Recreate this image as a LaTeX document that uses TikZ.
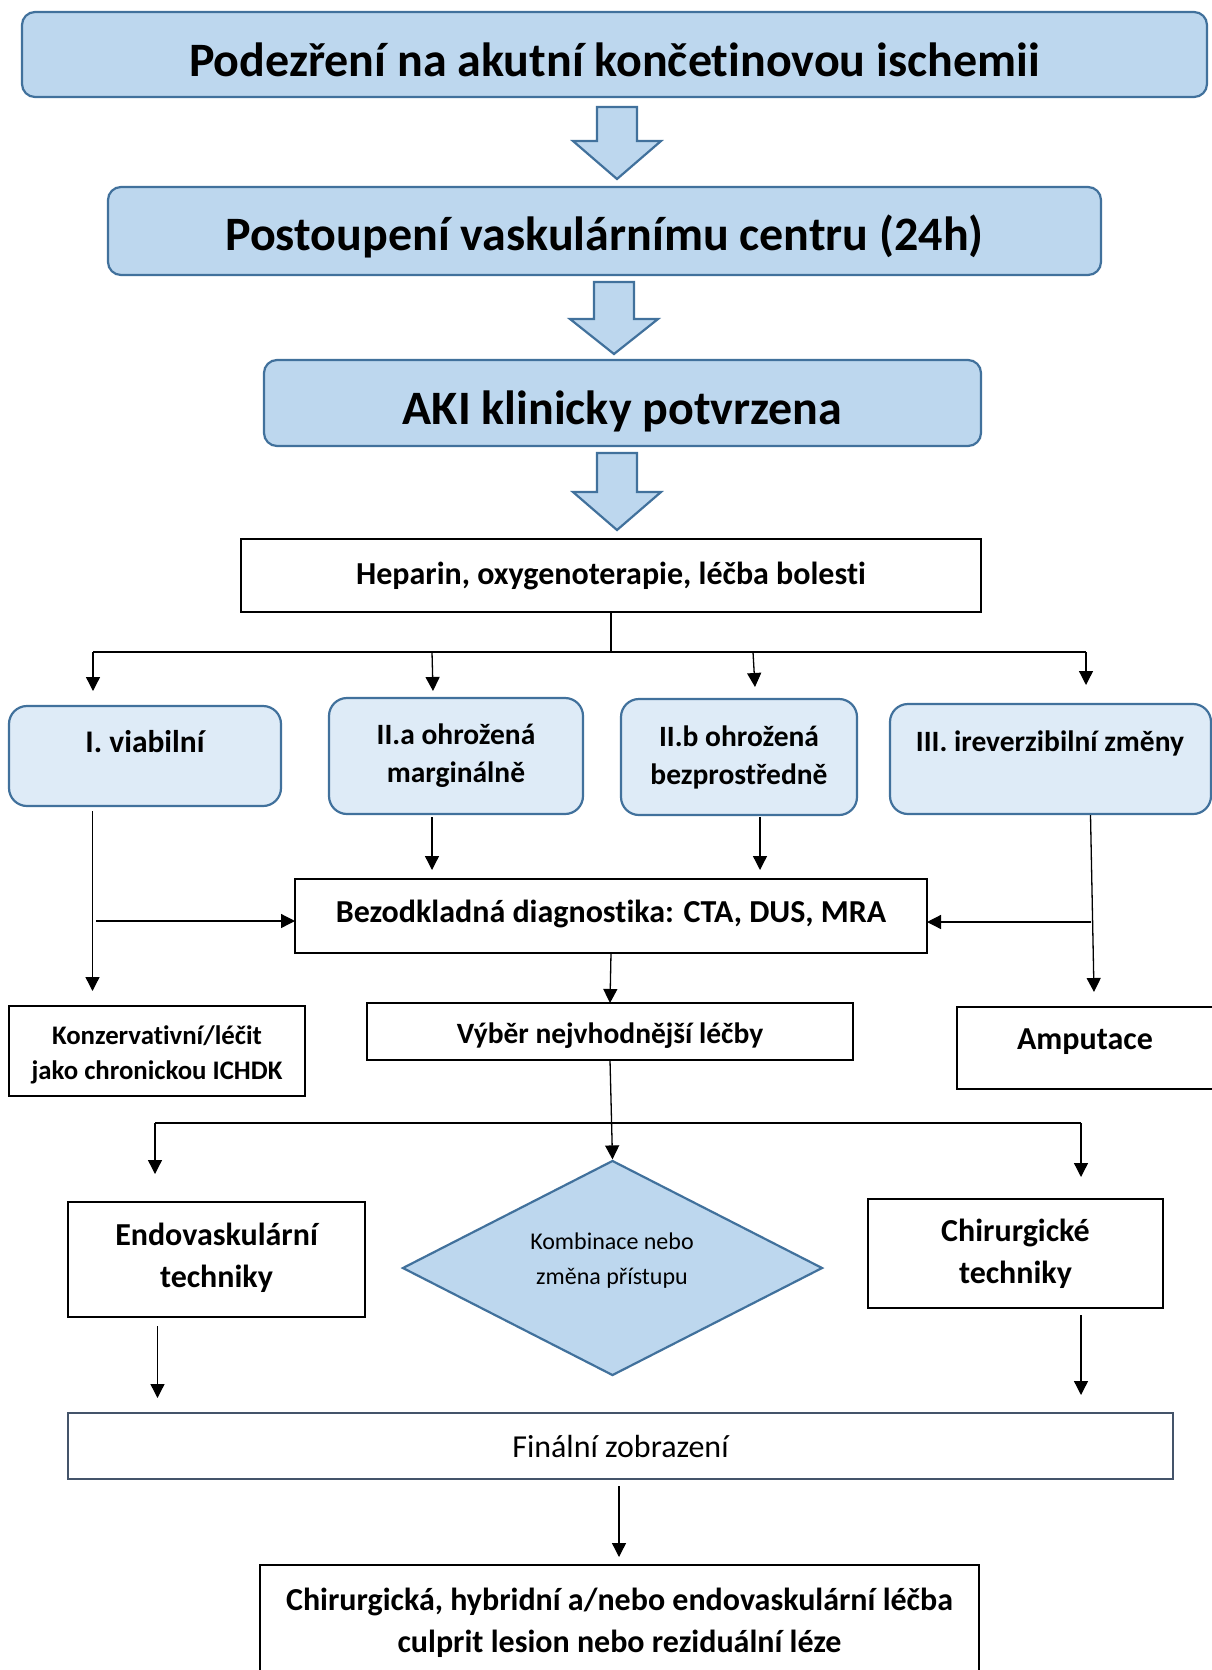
\documentclass[tikz,border=0pt]{standalone}
\usepackage{fontspec}
\setmainfont{Carlito}[Ligatures=NoCommon]
\usetikzlibrary{arrows.meta,shapes.geometric}
\definecolor{fillA}{RGB}{189,215,238}
\definecolor{fillB}{RGB}{222,235,247}
\definecolor{bordA}{RGB}{65,113,156}
\definecolor{bordF}{RGB}{68,84,106}
\tikzset{
  base/.style={inner sep=0pt, outer sep=0pt, align=center, text=black},
  hbox/.style={base, draw=bordA, fill=fillA, line width=2.2pt, rounded corners=13pt},
  rbox/.style={base, draw=bordA, fill=fillB, line width=2.2pt, rounded corners=18pt},
  kbox/.style={base, draw=black, line width=2.6pt, fill=white},
  fbox/.style={base, draw=bordF, line width=2.4pt, fill=white},
  htext/.style={base, font=\fontsize{48}{58}\selectfont\bfseries},
  rtext/.style={base, font=\fontsize{29.5}{38}\selectfont\bfseries},
  ktext/.style={base, font=\fontsize{32}{42}\selectfont\bfseries},
  ptext/.style={base, font=\fontsize{32}{42}\selectfont},
  conn/.style={line width=1.3pt, -{Triangle[length=14pt,width=14pt]}},
  wire/.style={line width=1.3pt},
  blockarr/.style={draw=bordA, fill=fillA, line width=2.2pt, line join=miter}
}
\newcommand{\blockarrow}[4]{% cx, top, neck, tip
  \draw[blockarr] (#1-20,#2) -- (#1+20,#2) -- (#1+20,#3) -- (#1+44,#3) -- (#1,#4) -- (#1-44,#3) -- (#1-20,#3) -- cycle;}
\begin{document}
\begin{tikzpicture}[x=1pt,y=-1pt]
\clip (0,0) rectangle (1212,1670);
\fill[white] (0,0) rectangle (1212,1670);

% top boxes
\node[hbox, minimum width=1185, minimum height=85] (h1) at (614.5,54.5) {};
\node[htext] (h1t) at (614.5,59.8) {Podezření na akutní končetinovou ischemii};
\node[hbox, minimum width=993, minimum height=88] (h2) at (604.5,231) {};
\node[htext] (h2t) at (604.5,236.3) {Postoupení vaskulárnímu centru (24h)};
\node[hbox, minimum width=717, minimum height=86] (h3) at (622.5,403) {};
\node[htext] (h3t) at (622.5,411.5) {AKI klinicky potvrzena};
\blockarrow{617}{107}{141}{179}
\blockarrow{614}{282}{319}{354}
\blockarrow{617}{453}{492}{530}

\node[kbox, minimum width=740, minimum height=73] (hep) at (611,575.5) {};
\node[ktext] (hept) at (611,575.5) {Heparin, oxygenoterapie, léčba bolesti};

% row of categories
\node[rbox, minimum width=272, minimum height=100] (b1) at (145,756) {};
\node[base, font=\fontsize{31.5}{38}\selectfont\bfseries] (b1t) at (145,742) {I. viabilní};
\node[rbox, minimum width=254, minimum height=116] (b2) at (456,756) {};
\node[rtext] (b2t) at (456,756) {II.a ohrožená\\marginálně};
\node[rbox, minimum width=236, minimum height=116] (b3) at (739,757) {};
\node[rtext] (b3t) at (739,757) {II.b ohrožená\\bezprostředně};
\node[rbox, minimum width=321, minimum height=110] (b4) at (1050.5,759) {};
\node[rtext] (b4t) at (1050,743) {III. ireverzibilní změny};

% bus from heparin
\coordinate (bus) at (611,652);
\coordinate (busL) at (93,652);
\coordinate (busR) at (1086,652);
\draw[wire] (hep.south) -- (bus);
\draw[wire] (busL) -- (busR);
\coordinate (t1) at (93,691);
\coordinate (s2) at (432,652);
\coordinate (t2) at (433,691);
\coordinate (s3) at (753,652);
\coordinate (t3) at (755,687);
\coordinate (t4) at (1086,685);
\draw[conn] (busL) -- (t1);
\draw[conn] (s2) -- (t2);
\draw[conn] (s3) -- (t3);
\draw[conn] (busR) -- (t4);

% diagnostics
\node[kbox, minimum width=632, minimum height=74] (diag) at (611,916) {};
\node[ktext] (diagt) at (611,914) {Bezodkladná diagnostika: CTA, DUS, MRA};
\coordinate (u2) at (432,817);
\coordinate (d2) at (432,870);
\coordinate (u3) at (760,817);
\coordinate (d3) at (760,870);
\draw[conn] (u2) -- (d2);
\draw[conn] (u3) -- (d3);

% lower boxes
\node[kbox, minimum width=296, minimum height=90] (konz) at (157,1051) {};
\node[base, font=\fontsize{26.8}{35}\selectfont\bfseries] (konzt) at (157,1055) {Konzervativní/léčit\\jako chronickou ICHDK};
\node[kbox, minimum width=486, minimum height=57] (vyb) at (610,1031.5) {};
\node[rtext] (vybt) at (610,1036) {Výběr nejvhodnější léčby};
\node[kbox, minimum width=257, minimum height=82] (amp) at (1085.5,1048) {};
\node[ktext] (ampt) at (1085,1041.5) {Amputace};

% side connectors
\coordinate (l1) at (92.5,811);
\coordinate (l2) at (92.5,991);
\coordinate (l3) at (96,921);
\coordinate (r1) at (1090.5,815);
\coordinate (r2) at (1094,992);
\coordinate (r3) at (1090.5,922);
\draw[conn] (l1) -- (l2);
\draw[conn] (l3) -- (diag.west |- l3);
\draw[conn] (r1) -- (r2);
\draw[conn] (r3) -- (diag.east |- r3);
\draw[conn] (diag.south) -- (vyb.north);

% treatment choice
\node[diamond, draw=bordA, fill=fillA, line width=2.2pt, inner sep=0pt, minimum width=420, minimum height=215] (dia) at (612.5,1268) {};
\node[base, font=\fontsize{24}{35}\selectfont] (diat) at (612,1261) {Kombinace nebo\\změna přístupu};
\node[kbox, minimum width=297, minimum height=115] (endo) at (216.5,1259.5) {};
\node[ktext] (endot) at (216.5,1257.5) {Endovaskulární\\techniky};
\node[kbox, minimum width=295, minimum height=109] (chir) at (1015.5,1253.5) {};
\node[ktext] (chirt) at (1015.5,1253.5) {Chirurgické\\techniky};

\coordinate (busBL) at (155,1123);
\coordinate (busBR) at (1081,1123);
\coordinate (e1) at (155,1174);
\coordinate (c1) at (1081,1177);
\draw[conn] (vyb.south) -- (dia.north);
\draw[wire] (busBL) -- (busBR);
\draw[conn] (busBL) -- (e1);
\draw[conn] (busBR) -- (c1);

% final
\node[fbox, minimum width=1105, minimum height=66] (fin) at (620.5,1446) {};
\node[ptext] (fint) at (620.5,1446) {Finální zobrazení};
\coordinate (e2) at (157.5,1326);
\coordinate (e3) at (157.5,1398);
\coordinate (c2) at (1081,1315);
\coordinate (c3) at (1081,1395);
\draw[conn] (e2) -- (e3);
\draw[conn] (c2) -- (c3);

\node[kbox, minimum width=719, minimum height=115] (last) at (619.5,1622.5) {};
\node[ktext] (lastt) at (619.5,1622.5) {Chirurgická, hybridní a/nebo endovaskulární léčba\\culprit lesion nebo reziduální léze};
\coordinate (f1) at (619,1486);
\coordinate (f2) at (619,1557);
\draw[conn] (f1) -- (f2);
\end{tikzpicture}
\end{document}
